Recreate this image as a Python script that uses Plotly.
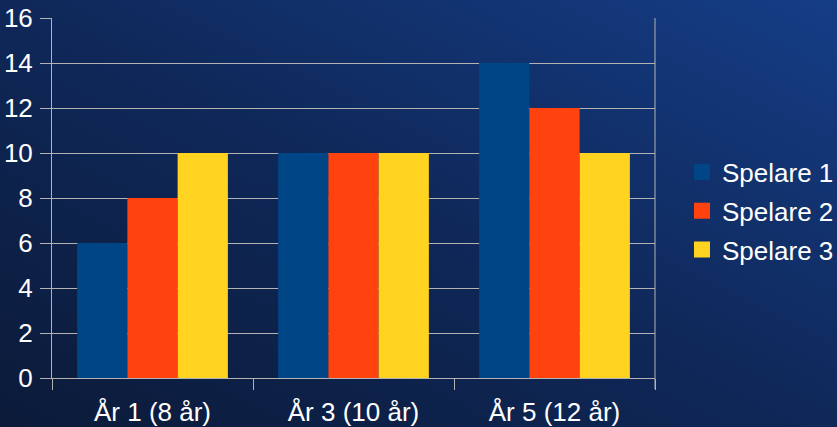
import base64
import plotly.graph_objects as go

# Chart data
categories = ["År 1 (8 år)", "År 3 (10 år)", "År 5 (12 år)"]
series_names = ["Spelare 1", "Spelare 2", "Spelare 3"]
spelare_1 = [6, 10, 14]
spelare_2 = [8, 10, 12]
spelare_3 = [10, 10, 10]
y_ticks = [0, 2, 4, 6, 8, 10, 12, 14, 16]

series_values = [spelare_1, spelare_2, spelare_3]
colors = ["#004586", "#ff420e", "#ffd320"]

FONT = "Liberation Sans, Arial, sans-serif"
GRID = "#b3b3b3"

W, H = 837, 427
ML, MR, MT, MB = 52, 182, 18, 49
PW, PH = W - ML - MR, H - MT - MB

# Diagonal blue gradient used as the slide background
svg = (
    f'<svg xmlns="http://www.w3.org/2000/svg" width="{W}" height="{H}" '
    'preserveAspectRatio="none">'
    '<defs><linearGradient id="g" x1="0" y1="1" x2="1" y2="0">'
    '<stop offset="0" stop-color="#0b1a38"/>'
    '<stop offset="0.5" stop-color="#0f2859"/>'
    '<stop offset="1" stop-color="#153d86"/>'
    '</linearGradient></defs>'
    f'<rect width="{W}" height="{H}" fill="url(#g)"/></svg>'
)
bg_uri = "data:image/svg+xml;base64," + base64.b64encode(svg.encode()).decode()

fig = go.Figure()

for name, vals, col in zip(series_names, series_values, colors):
    fig.add_trace(go.Bar(
        x=categories, y=vals, name=name, marker_color=col,
        marker_line_width=0, showlegend=False,
    ))

# Legend entries with larger square keys, one group each for row spacing
for name, col in zip(series_names, colors):
    fig.add_trace(go.Scatter(
        x=[None], y=[None], mode="markers", name=name, legendgroup=name,
        marker=dict(symbol="square", size=16, color=col),
    ))

fig.update_layout(
    width=W, height=H,
    margin=dict(l=ML, r=MR, t=MT, b=MB, autoexpand=False),
    paper_bgcolor="#0f2654",
    plot_bgcolor="rgba(0,0,0,0)",
    barmode="group", bargap=0.25, bargroupgap=0,
    font=dict(family=FONT, size=26, color="white"),
    images=[dict(
        source=bg_uri, xref="paper", yref="paper",
        x=-ML / PW, y=1 + MT / PH,
        sizex=W / PW, sizey=H / PH, xanchor="left", yanchor="top",
        sizing="stretch", layer="below",
    )],
    legend=dict(
        x=1 + 27 / PW, xanchor="left", y=(378 - 211) / PH, yanchor="middle",
        font=dict(size=26, color="white"),
        bgcolor="rgba(0,0,0,0)", tracegroupgap=2,
        itemwidth=30, itemsizing="trace",
    ),
    showlegend=True,
)

fig.update_xaxes(
    type="category", showgrid=False, automargin=False,
    showline=True, linecolor=GRID, linewidth=1, mirror=False,
    ticks="outside", tickson="boundaries", ticklen=11, tickcolor=GRID,
    tickfont=dict(size=26, color="white"),
    ticklabelstandoff=11,
)
fig.update_yaxes(
    range=[0, 16], tickvals=y_ticks, showgrid=True, gridcolor=GRID, gridwidth=1,
    showline=True, linecolor=GRID, linewidth=1, automargin=False,
    ticks="outside", ticklen=11, tickcolor=GRID,
    tickfont=dict(size=26, color="white"),
    zeroline=False, ticklabelstandoff=2,
)

# Right border of the plot area
fig.add_shape(type="line", xref="paper", yref="paper", x0=1, x1=1, y0=0, y1=1,
              line=dict(color=GRID, width=1))
# Bottom tick mark at the right edge
fig.add_shape(type="line", xref="paper", yref="paper", x0=1, x1=1, y0=0, y1=-11 / PH,
              line=dict(color=GRID, width=1))

fig.write_html("out.html")
